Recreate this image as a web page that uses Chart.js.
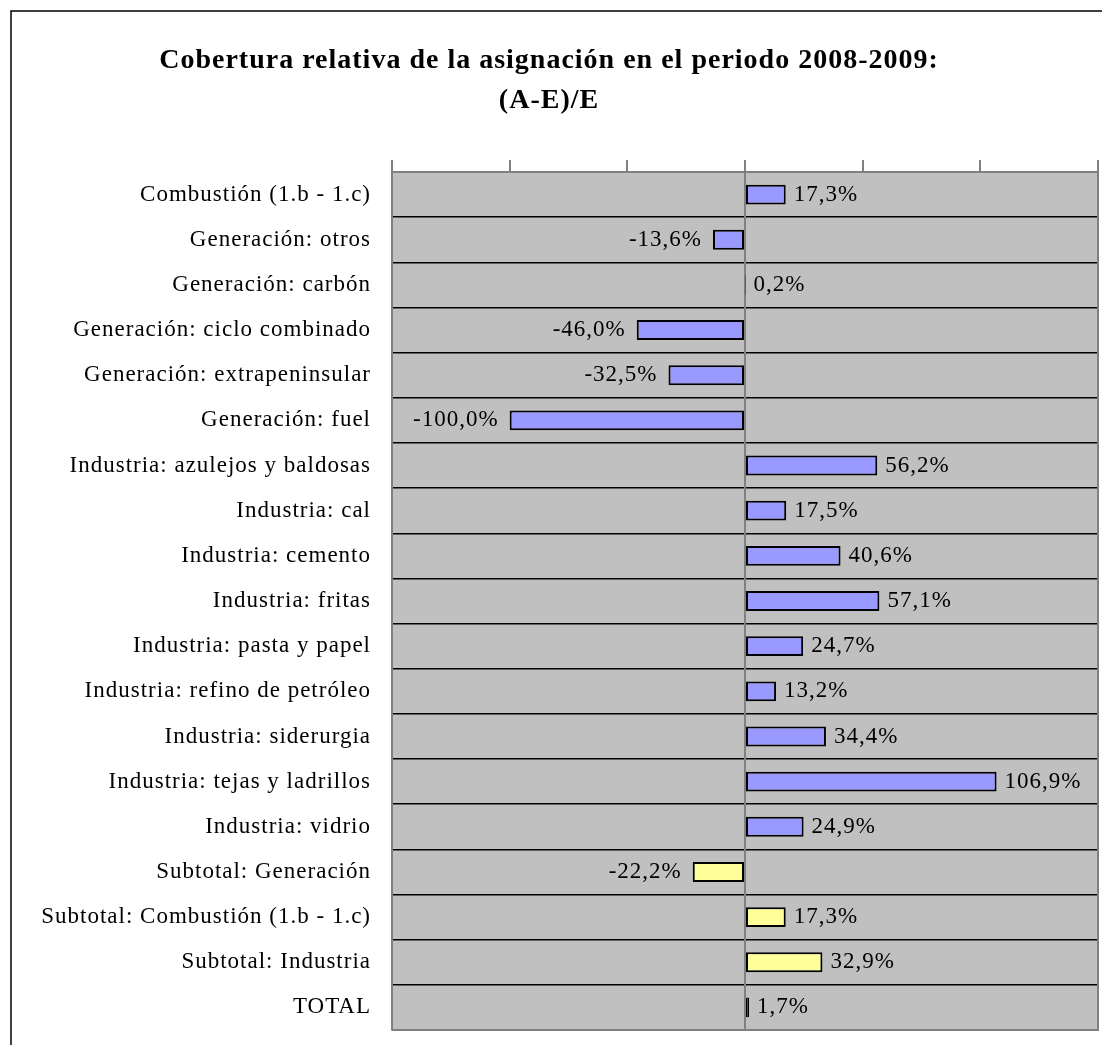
<!DOCTYPE html>
<html>
<head>
<meta charset="utf-8">
<script src="https://cdn.jsdelivr.net/npm/chart.js@4.4.0/dist/chart.umd.min.js"></script>
<style>
  body { margin: 0; background: #fff; }
  #wrap { width: 1102px; height: 1045px; position: relative; }
</style>
</head>
<body>
<div id="wrap"><canvas id="chart" width="1102" height="1045"></canvas></div>
<script>
// categories and values (%)
const categories = [
  'Combustión (1.b - 1.c)',
  'Generación: otros',
  'Generación: carbón',
  'Generación: ciclo combinado',
  'Generación: extrapeninsular',
  'Generación: fuel',
  'Industria: azulejos y baldosas',
  'Industria: cal',
  'Industria: cemento',
  'Industria: fritas',
  'Industria: pasta y papel',
  'Industria: refino de petróleo',
  'Industria: siderurgia',
  'Industria: tejas y ladrillos',
  'Industria: vidrio',
  'Subtotal: Generación',
  'Subtotal: Combustión (1.b - 1.c)',
  'Subtotal: Industria',
  'TOTAL'
];
const values = [17.3, -13.6, 0.2, -46.0, -32.5, -100.0, 56.2, 17.5, 40.6, 57.1,
  24.7, 13.2, 34.4, 106.9, 24.9, -22.2, 17.3, 32.9, 1.7];
// bar group: 0 = detail, 1 = subtotal, 2 = total
const groups = [0, 0, 0, 0, 0, 0, 0, 0, 0, 0, 0, 0, 0, 0, 0, 1, 1, 1, 2];
const groupColors = ['#9999FF', '#FFFF99', '#FF0000'];
const axisTicks = [-150, -100, -50, 0, 50, 100, 150];

const serif = "'Liberation Serif', 'Times New Roman', serif";

const fmt = (v) => v.toFixed(1).replace('.', ',') + '%';

// gray plot area, outer frame, zero line, wide text spacing
const plotBg = {
  id: 'plotBg',
  beforeDraw(chart) {
    const { ctx, chartArea: a } = chart;
    ctx.letterSpacing = '1px';
    ctx.save();
    ctx.fillStyle = '#C0C0C0';
    ctx.fillRect(a.left, a.top, a.right - a.left, a.bottom - a.top);
    ctx.strokeStyle = '#000';
    ctx.lineWidth = 1.5;
    ctx.strokeRect(11, 11, 1200, 1200);
    ctx.restore();
  },
  beforeDatasetsDraw(chart) {
    const { ctx, chartArea: a, scales } = chart;
    const x0 = scales.x.getPixelForValue(0);
    ctx.save();
    ctx.strokeStyle = '#808080';
    ctx.lineWidth = 2;
    ctx.beginPath();
    ctx.moveTo(x0, a.top);
    ctx.lineTo(x0, a.bottom);
    ctx.stroke();
    ctx.beginPath();
    ctx.moveTo(a.right, a.top);
    ctx.lineTo(a.right, a.bottom);
    ctx.lineTo(a.left, a.bottom);
    ctx.stroke();
    ctx.restore();
  }
};

// value labels next to the bar ends
const barLabels = {
  id: 'barLabels',
  afterDatasetsDraw(chart) {
    const { ctx } = chart;
    const meta = chart.getDatasetMeta(0);
    ctx.save();
    ctx.font = '23px ' + serif;
    ctx.fillStyle = '#000';
    ctx.textBaseline = 'middle';
    meta.data.forEach((bar, i) => {
      const v = values[i];
      if (v >= 0) {
        ctx.textAlign = 'left';
        ctx.fillText(fmt(v), bar.x + 8, bar.y);
      } else {
        ctx.textAlign = 'right';
        ctx.fillText(fmt(v), bar.x - 11, bar.y);
      }
    });
    ctx.restore();
  }
};

new Chart(document.getElementById('chart'), {
  type: 'bar',
  data: {
    labels: categories,
    datasets: [{
      data: values,
      backgroundColor: groups.map((g) => groupColors[g]),
      borderColor: '#000',
      borderWidth: groups.map((g) => (g === 2 ? 1 : 2)),
      borderSkipped: false,
      barPercentage: 0.44,
      categoryPercentage: 1
    }]
  },
  options: {
    indexAxis: 'y',
    responsive: false,
    animation: false,
    layout: { padding: { top: 0, right: 4, bottom: 15, left: 0 } },
    plugins: {
      legend: { display: false },
      tooltip: { enabled: false },
      title: {
        display: true,
        text: ['Cobertura relativa de la asignación en el periodo 2008-2009:', '(A-E)/E'],
        color: '#000',
        font: { family: serif, size: 28, weight: 'bold', lineHeight: 40 / 28 },
        padding: { top: 41, bottom: 39 }
      }
    },
    scales: {
      x: {
        position: 'top',
        min: -150,
        max: 150,
        afterBuildTicks(scale) {
          scale.ticks = axisTicks.map((v) => ({ value: v }));
        },
        afterFit(scale) { scale.height = 12; },
        ticks: { color: 'rgba(0,0,0,0)', font: { size: 1 } },
        grid: {
          drawOnChartArea: false,
          drawTicks: true,
          tickLength: 12,
          color: '#808080',
          lineWidth: 2
        },
        border: { display: true, color: '#808080', width: 2 }
      },
      y: {
        afterFit(scale) {
          scale.width = 392;
          scale.paddingTop = 0;
          scale.paddingBottom = 0;
        },
        ticks: {
          color: '#000',
          padding: 21,
          font: { family: serif, size: 23 }
        },
        grid: {
          color: '#000',
          lineWidth: 1.5,
          drawTicks: false,
          offset: true
        },
        border: { display: true, color: '#808080', width: 2 }
      }
    }
  },
  plugins: [plotBg, barLabels]
});
</script>
</body>
</html>
